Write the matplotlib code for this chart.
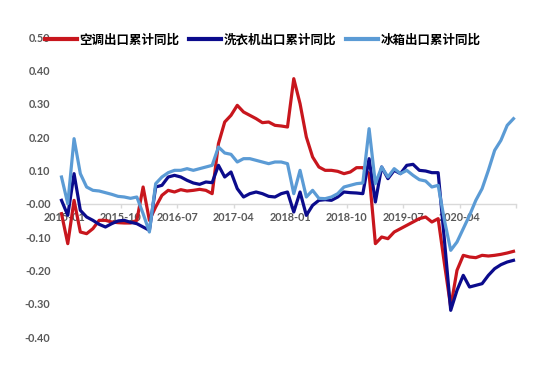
import numpy as np
import matplotlib
matplotlib.use('Agg')
import matplotlib.pyplot as plt

# --- data (monthly, 2015-01 .. 2021-01) ---
months = [f"{2015 + k // 12}-{k % 12 + 1:02d}" for k in range(73)]

ac_yoy = [  # 空调出口累计同比
    -0.03, -0.12, 0.01, -0.085, -0.09, -0.075, -0.05, -0.05, -0.055, -0.057,
    -0.058, -0.058, -0.05, 0.05, -0.05, -0.01, 0.025, 0.04, 0.035, 0.042,
    0.038, 0.04, 0.043, 0.04, 0.03, 0.18, 0.245, 0.265, 0.295, 0.275,
    0.265, 0.255, 0.243, 0.245, 0.235, 0.233, 0.23, 0.375, 0.30, 0.20,
    0.14, 0.11, 0.10, 0.10, 0.097, 0.09, 0.095, 0.108, 0.108, 0.09,
    -0.12, -0.10, -0.105, -0.085, -0.075, -0.065, -0.055, -0.045, -0.04, -0.055,
    -0.045, -0.18, -0.31, -0.20, -0.155, -0.16, -0.162, -0.155, -0.157, -0.155,
    -0.152, -0.148, -0.143,
]
washer_yoy = [  # 洗衣机出口累计同比
    0.01, -0.035, 0.09, -0.02, -0.04, -0.05, -0.062, -0.07, -0.06, -0.052,
    -0.05, -0.056, -0.06, -0.07, -0.08, 0.05, 0.055, 0.08, 0.085, 0.08,
    0.07, 0.062, 0.058, 0.065, 0.063, 0.115, 0.08, 0.095, 0.045, 0.02,
    0.03, 0.035, 0.03, 0.022, 0.02, 0.03, 0.035, -0.025, 0.035, -0.035,
    -0.005, 0.01, 0.012, 0.01, 0.02, 0.035, 0.033, 0.032, 0.03, 0.135,
    0.005, 0.11, 0.075, 0.10, 0.09, 0.115, 0.118, 0.10, 0.098, 0.093,
    0.093, -0.11, -0.32, -0.26, -0.215, -0.25, -0.245, -0.24, -0.215, -0.195,
    -0.183, -0.175, -0.17,
]
fridge_yoy = [  # 冰箱出口累计同比
    0.08, 0.0, 0.195, 0.09, 0.05, 0.04, 0.038, 0.033, 0.028, 0.022,
    0.02, 0.016, 0.02, -0.03, -0.085, 0.06, 0.08, 0.093, 0.10, 0.10,
    0.105, 0.10, 0.105, 0.11, 0.115, 0.17, 0.152, 0.148, 0.125, 0.135,
    0.135, 0.13, 0.125, 0.12, 0.125, 0.125, 0.12, 0.03, 0.10, 0.02,
    0.04, 0.016, 0.015, 0.02, 0.03, 0.05, 0.055, 0.06, 0.062, 0.225,
    0.06, 0.11, 0.08, 0.105, 0.09, 0.10, 0.085, 0.072, 0.068, 0.05,
    0.055, -0.05, -0.14, -0.115, -0.075, -0.035, 0.01, 0.045, 0.10, 0.16,
    0.19, 0.235, 0.255,
]
series_names = ['空调出口累计同比', '洗衣机出口累计同比', '冰箱出口累计同比']
series_colors = ['#C8161D', '#0B0B8C', '#5B9BD5']

tick_step = 9
y_ticks = np.arange(-0.4, 0.51, 0.1)

# --- figure ---
fig = plt.figure(figsize=(5.5, 3.69), dpi=100)
ax = fig.add_axes([61.5 / 550, 1 - 337 / 369, 454.5 / 550, 300 / 369])

x = np.arange(len(months))
lines = []
for vals, name, col in zip([ac_yoy, washer_yoy, fridge_yoy], series_names, series_colors):
    ln, = ax.plot(x, vals, color=col, lw=2.3, label=name, clip_on=False,
                  solid_joinstyle='round', zorder=3)
    lines.append(ln)

ax.set_xlim(0, 72.4)
ax.set_ylim(-0.4, 0.5)

tick_font = dict(family=['Lato', 'DejaVu Sans'], weight='bold', size=7.8)

# x axis sits on zero
for side in ['top', 'right', 'left']:
    ax.spines[side].set_visible(False)
ax.spines['bottom'].set_position(('data', 0))
ax.spines['bottom'].set_color('#D9D9D9')
ax.spines['bottom'].set_linewidth(1.0)

tick_pos = list(np.arange(0, 64, tick_step) + 0.4) + [72.4]
tick_lab = [months[k] for k in range(0, 64, tick_step)] + ['']
ax.set_xticks(tick_pos)
ax.set_xticklabels(tick_lab, fontdict=tick_font, color='#595959')
ax.tick_params(axis='x', length=3, width=1, color='#D9D9D9', pad=3)

ax.set_yticks(y_ticks)
ax.set_yticklabels([f"{v:.2f}" for v in y_ticks], fontdict=tick_font, color='#595959')
ax.tick_params(axis='y', length=0, pad=8)

fig.legend(handles=lines, loc='center', bbox_to_anchor=(0.477, 0.892),
           ncol=3, frameon=False, borderpad=0, handlelength=2.6,
           handletextpad=0.15, columnspacing=0.8,
           prop=dict(family=['Noto Sans CJK SC', 'DejaVu Sans'], weight='bold', size=9))
for h in fig.legends[0].legend_handles:
    h.set_linewidth(3)

fig.savefig('out.png', dpi=100, facecolor='white')
